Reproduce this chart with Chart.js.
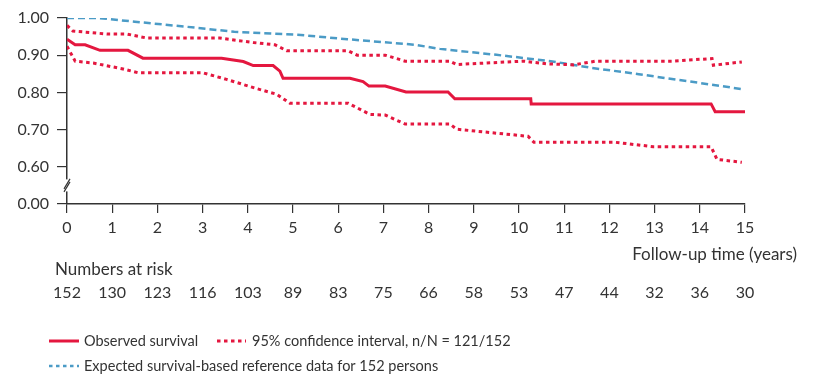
<!DOCTYPE html>
<html>
<head>
<meta charset="utf-8">
<script src="https://cdn.jsdelivr.net/npm/chart.js@4.4.1/dist/chart.umd.min.js"></script>
<style>
  html, body { margin: 0; padding: 0; background: #fff; }
</style>
</head>
<body>
<canvas id="km" width="814" height="376"></canvas>
<script>
// values (time in years, survival proportion)
const obsTime = [0, 0.18, 0.4, 0.73, 1.35, 1.68, 3.42, 3.9, 4.12, 4.56, 4.71, 4.78, 6.26, 6.55, 6.68, 7.04, 7.5, 8.43, 8.58, 10.26, 10.27, 14.25, 14.34, 15];
const obsSurv = [0.943, 0.928, 0.928, 0.913, 0.913, 0.892, 0.892, 0.883, 0.872, 0.872, 0.857, 0.838, 0.838, 0.829, 0.817, 0.817, 0.801, 0.801, 0.783, 0.783, 0.769, 0.769, 0.748, 0.748];

const upTime = [0, 0.13, 0.88, 1.32, 1.77, 3.38, 4.12, 4.6, 4.86, 6.22, 6.42, 7.04, 7.48, 8.47, 8.62, 10.1, 10.6, 11.2, 11.7, 13.4, 14.27, 14.3, 14.93];
const upSurv = [0.98, 0.965, 0.957, 0.957, 0.946, 0.946, 0.934, 0.928, 0.912, 0.912, 0.9, 0.9, 0.884, 0.884, 0.875, 0.884, 0.877, 0.874, 0.884, 0.884, 0.891, 0.873, 0.882];

const lowTime = [0, 0.18, 0.58, 1.24, 1.57, 3.0, 3.53, 4.2, 4.64, 4.93, 6.22, 6.7, 7.04, 7.48, 8.47, 8.62, 10.2, 10.33, 12.12, 12.97, 14.25, 14.38, 14.93];
const lowSurv = [0.924, 0.884, 0.879, 0.863, 0.853, 0.853, 0.835, 0.81, 0.795, 0.771, 0.771, 0.741, 0.739, 0.715, 0.715, 0.701, 0.682, 0.666, 0.666, 0.654, 0.654, 0.62, 0.612];

const expTime = [0, 0.7, 1.5, 2.6, 3.7, 5.1, 6.2, 7.7, 8.25, 9.5, 10.7, 11.6, 12.65, 14.93];
const expSurv = [1.0, 1.0, 0.99, 0.977, 0.963, 0.955, 0.943, 0.928, 0.917, 0.901, 0.884, 0.866, 0.849, 0.809];

const riskYears = [0, 1, 2, 3, 4, 5, 6, 7, 8, 9, 10, 11, 12, 13, 14, 15];
const atRisk = [152, 130, 123, 116, 103, 89, 83, 75, 66, 58, 53, 47, 44, 32, 36, 30];

const RED = '#e4173f';
const BLUE = '#4b9bc6';
const TEXT = '#333333';
const FONT = 'Lato, "Open Sans", sans-serif';

function toPoints(t, s) {
  return t.map((x, i) => ({ x: x, y: s[i] }));
}

// broken axis: the bottom tick (0.50 on the scale) is labelled 0.00
const extras = {
  id: 'extras',
  afterDraw(chart) {
    const ctx = chart.ctx;
    const x = chart.scales.x;
    const y = chart.scales.y;
    const left = chart.chartArea.left;
    const c = y.getPixelForValue(0.55);

    ctx.save();
    // axis break
    ctx.fillStyle = '#fff';
    ctx.fillRect(left - 2, c - 6, 4, 12);
    ctx.strokeStyle = TEXT;
    ctx.lineWidth = 1.2;
    [-1.5, 1.5].forEach(d => {
      ctx.beginPath();
      ctx.moveTo(left - 3, c + 5 + d);
      ctx.lineTo(left + 3, c - 5 + d);
      ctx.stroke();
    });

    ctx.fillStyle = TEXT;
    ctx.textBaseline = 'middle';

    ctx.font = '17px ' + FONT;
    ctx.textAlign = 'right';
    ctx.fillText('Follow-up time (years)', 797, 255);

    ctx.textAlign = 'left';
    ctx.fillText('Numbers at risk', 55, 270);
    ctx.font = '16px ' + FONT;
    ctx.textAlign = 'center';
    riskYears.forEach((yr, i) => {
      ctx.fillText(String(atRisk[i]), x.getPixelForValue(yr), 293);
    });

    // legend
    ctx.font = '14.5px ' + FONT;
    ctx.textAlign = 'left';
    ctx.lineWidth = 3;
    ctx.strokeStyle = RED;
    ctx.setLineDash([]);
    ctx.beginPath(); ctx.moveTo(49, 341); ctx.lineTo(79, 341); ctx.stroke();
    ctx.fillText('Observed survival', 84, 341);

    ctx.setLineDash([3.5, 3.5]);
    ctx.beginPath(); ctx.moveTo(217, 341); ctx.lineTo(246, 341); ctx.stroke();
    ctx.fillText('95% confidence interval, n/N = 121/152', 252, 341);

    ctx.strokeStyle = BLUE;
    ctx.lineWidth = 2.5;
    ctx.beginPath(); ctx.moveTo(49, 366); ctx.lineTo(79, 366); ctx.stroke();
    ctx.fillText('Expected survival-based reference data for 152 persons', 84, 366);
    ctx.restore();
  }
};

new Chart(document.getElementById('km'), {
  type: 'scatter',
  data: {
    datasets: [
      { label: 'Observed survival', data: toPoints(obsTime, obsSurv), borderColor: RED, borderWidth: 3 },
      { label: '95% CI upper', data: toPoints(upTime, upSurv), borderColor: RED, borderWidth: 3, borderDash: [3.5, 3.5] },
      { label: '95% CI lower', data: toPoints(lowTime, lowSurv), borderColor: RED, borderWidth: 3, borderDash: [3.5, 3.5] },
      { label: 'Expected', data: toPoints(expTime, expSurv), borderColor: BLUE, borderWidth: 2.5, borderDash: [7, 4] }
    ].map(d => Object.assign(d, { showLine: true, pointRadius: 0, tension: 0, fill: false }))
  },
  options: {
    responsive: false,
    animation: false,
    layout: { padding: { left: 0, top: 18, right: 69, bottom: 142 } },
    plugins: { legend: { display: false }, tooltip: { enabled: false } },
    scales: {
      x: {
        type: 'linear',
        min: 0,
        max: 15,
        ticks: { stepSize: 1, color: TEXT, font: { family: FONT, size: 16 }, padding: 5 },
        grid: { drawOnChartArea: false, tickLength: 9, color: TEXT, lineWidth: 1.2 },
        border: { color: TEXT, width: 1.5 },
        afterFit: s => { s.height = 30; }
      },
      y: {
        min: 0.5,
        max: 1.0,
        ticks: {
          stepSize: 0.1,
          color: TEXT,
          font: { family: FONT, size: 16 },
          padding: 8,
          callback: v => (v < 0.55 ? '0.00' : v.toFixed(2))
        },
        grid: { drawOnChartArea: false, tickLength: 10, color: TEXT, lineWidth: 1.2 },
        border: { color: TEXT, width: 1.5 },
        afterFit: s => { s.width = 67; }
      }
    }
  },
  plugins: [extras]
});
</script>
</body>
</html>
